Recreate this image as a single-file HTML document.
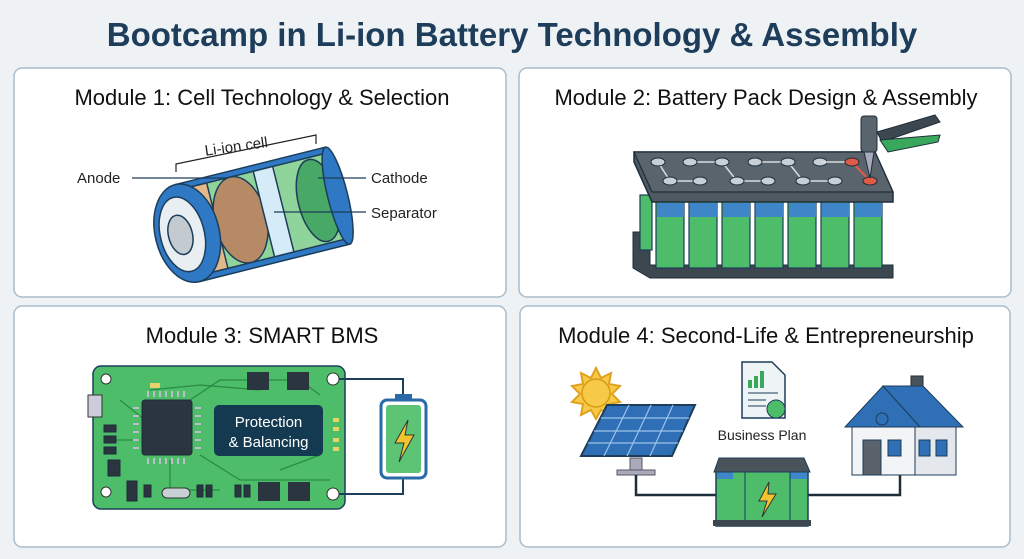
<!DOCTYPE html>
<html><head><meta charset="utf-8"><style>
html,body{margin:0;padding:0;background:#eef2f5;}
svg{display:block;font-family:"Liberation Sans",sans-serif;}
</style></head><body>
<svg width="1024" height="559" viewBox="0 0 1024 559" xmlns="http://www.w3.org/2000/svg">
<rect width="1024" height="559" fill="#eef2f5"/>
<text x="512" y="46" text-anchor="middle" font-size="33" font-weight="bold" fill="#1d3d5a">Bootcamp in Li-ion Battery Technology &amp; Assembly</text>
<g fill="#fff" stroke="#a9bccb" stroke-width="1.5">
<rect x="14" y="68" width="492" height="229" rx="8"/>
<rect x="519" y="68" width="492" height="229" rx="8"/>
<rect x="14" y="306" width="492" height="241" rx="8"/>
<rect x="520" y="306" width="490" height="241" rx="8"/>
</g>
<g font-size="22" fill="#111" text-anchor="middle">
<text x="262" y="105">Module 1: Cell Technology &amp; Selection</text>
<text x="766" y="105">Module 2: Battery Pack Design &amp; Assembly</text>
<text x="262" y="343">Module 3: SMART BMS</text>
<text x="766" y="343">Module 4: Second-Life &amp; Entrepreneurship</text>
</g>
<!-- Module 1 cell -->
<g transform="rotate(-14 260 215)" stroke="#1d3d5a" stroke-width="1.5">
<rect x="185" y="165" width="155" height="100" fill="#2f78c4"/>
<rect x="200" y="171" width="135" height="88" fill="#8fd49a"/>
<rect x="200" y="171" width="16" height="88" fill="#e3b98a"/>
<ellipse cx="240" cy="215" rx="26" ry="44" fill="#b58a64"/>
<rect x="264" y="171" width="20" height="88" fill="#d5ecf8"/>
<ellipse cx="320" cy="215" rx="20" ry="42" fill="#48a865"/>
<ellipse cx="340" cy="215" rx="10" ry="50" fill="#2f78c4"/>
<ellipse cx="185" cy="215" rx="32" ry="50" fill="#2f78c4"/>
<ellipse cx="180" cy="215" rx="22" ry="38" fill="#e9eef2"/>
<ellipse cx="178" cy="215" rx="12" ry="20" fill="#c4cbd0"/>
</g>
<path d="M176 172 L176 164 L316 135 L316 144" fill="none" stroke="#222" stroke-width="1.2"/>
<text x="205" y="152" font-size="15" fill="#222" transform="rotate(-8 232 150)">Li-ion cell</text>
<g font-size="15" fill="#222">
<text x="77" y="183">Anode</text>
<text x="371" y="183">Cathode</text>
<text x="371" y="218">Separator</text>
</g>
<g stroke="#1d3d5a" stroke-width="1.2">
<line x1="132" y1="178" x2="228" y2="178"/>
<line x1="318" y1="178" x2="366" y2="178"/>
<line x1="274" y1="212" x2="366" y2="212"/>
</g>
<!-- Module 2 pack -->
<polygon points="633,232 650,232 650,265 893,265 893,278 650,278 633,268" fill="#3d474f" stroke="#1d2d3a"/>
<g stroke="#1d3d5a" stroke-width="1.2">
<rect x="640" y="195" width="12" height="55" fill="#4dbd6a"/>
<rect x="656" y="200" width="28" height="68" fill="#4dbd6a"/>
<rect x="689" y="200" width="28" height="68" fill="#4dbd6a"/>
<rect x="722" y="200" width="28" height="68" fill="#4dbd6a"/>
<rect x="755" y="200" width="28" height="68" fill="#4dbd6a"/>
<rect x="788" y="200" width="28" height="68" fill="#4dbd6a"/>
<rect x="821" y="200" width="28" height="68" fill="#4dbd6a"/>
<rect x="854" y="200" width="28" height="68" fill="#4dbd6a"/>
</g>
<g fill="#3f86c8"><rect x="657" y="203" width="27" height="14"/><rect x="690" y="203" width="27" height="14"/><rect x="723" y="203" width="27" height="14"/><rect x="756" y="203" width="27" height="14"/><rect x="789" y="203" width="27" height="14"/><rect x="822" y="203" width="27" height="14"/><rect x="855" y="203" width="27" height="14"/></g>
<polygon points="634,152 875,152 893,192 893,202 652,202 634,162" fill="#4f5961" stroke="#1d2d3a" stroke-width="1.5"/>
<polygon points="634,152 875,152 893,192 652,192" fill="#5a646c" stroke="#1d2d3a" stroke-width="1.2"/>
<g stroke="#d8dde2" stroke-width="1.5" fill="none"><path d="M658 162 L670 181 L700 181"/><path d="M690 162 L722 162 L737 181 L768 181"/><path d="M755 162 L788 162 L803 181 L835 181"/></g>
<g fill="#c9d0d5" stroke="#1d2d3a"><ellipse cx="658" cy="162" rx="7" ry="4"/><ellipse cx="690" cy="162" rx="7" ry="4"/><ellipse cx="722" cy="162" rx="7" ry="4"/><ellipse cx="755" cy="162" rx="7" ry="4"/><ellipse cx="788" cy="162" rx="7" ry="4"/><ellipse cx="820" cy="162" rx="7" ry="4"/><ellipse cx="670" cy="181" rx="7" ry="4"/><ellipse cx="700" cy="181" rx="7" ry="4"/><ellipse cx="737" cy="181" rx="7" ry="4"/><ellipse cx="768" cy="181" rx="7" ry="4"/><ellipse cx="803" cy="181" rx="7" ry="4"/><ellipse cx="835" cy="181" rx="7" ry="4"/></g>
<line x1="820" y1="162" x2="852" y2="162" stroke="#d8dde2" stroke-width="1.5"/>
<line x1="852" y1="162" x2="870" y2="181" stroke="#e05a48" stroke-width="2"/>
<g fill="#e05a48" stroke="#1d2d3a"><ellipse cx="852" cy="162" rx="7" ry="4"/><ellipse cx="870" cy="181" rx="7" ry="4"/></g>
<rect x="861" y="116" width="16" height="36" rx="3" fill="#5a646c" stroke="#1d2d3a"/>
<polygon points="864,152 874,152 870,178" fill="#aab" stroke="#1d2d3a"/>
<path d="M877 132 L935 115 L940 122 L882 142 Z" fill="#3d474f" stroke="#1d2d3a"/>
<path d="M880 140 L940 135 L938 142 L888 152 Z" fill="#3aa85c" stroke="#1d2d3a"/>
<!-- Module 3 BMS -->
<rect x="93" y="366" width="252" height="143" rx="8" fill="#4dbd6a" stroke="#1d3d5a" stroke-width="1.5"/>
<g stroke="#2b8a45" stroke-width="1.3" fill="none"><path d="M150 390 L200 385 L260 390"/><path d="M120 400 L145 420"/><path d="M170 460 L170 490 L220 490"/><path d="M200 455 L240 480 L330 480"/><path d="M190 400 L220 380 L300 380 L320 395"/><path d="M320 455 L280 470"/><path d="M110 440 L140 440"/></g>
<rect x="142" y="400" width="50" height="55" rx="3" fill="#2b3540" stroke="#1d2d3a"/>
<g stroke="#b8c0c8" stroke-width="2"><path d="M148 397 v-6 M154 397 v-6 M160 397 v-6 M166 397 v-6 M172 397 v-6 M178 397 v-6 M184 397 v-6 M148 458 v6 M154 458 v6 M160 458 v6 M166 458 v6 M172 458 v6 M178 458 v6 M184 458 v6 M139 408 h-6 M139 416 h-6 M139 424 h-6 M139 432 h-6 M139 440 h-6 M139 448 h-6 M195 408 h6 M195 416 h6 M195 424 h6 M195 432 h6 M195 440 h6 M195 448 h6"/></g>
<rect x="88" y="395" width="14" height="22" fill="#ccd" stroke="#333"/>
<g fill="#2b3540" stroke="#1d2d3a"><rect x="104" y="425" width="12" height="7"/><rect x="104" y="436" width="12" height="7"/><rect x="104" y="447" width="12" height="7"/><rect x="108" y="460" width="12" height="16"/><rect x="127" y="481" width="10" height="20"/><rect x="144" y="485" width="7" height="12"/><rect x="197" y="485" width="6" height="12"/><rect x="206" y="485" width="6" height="12"/><rect x="235" y="485" width="6" height="12"/><rect x="244" y="485" width="6" height="12"/></g>
<rect x="162" y="488" width="28" height="10" rx="5" fill="#c9d0d5" stroke="#333"/>
<rect x="214" y="405" width="109" height="51" rx="5" fill="#143a52"/>
<text x="268.5" y="427" text-anchor="middle" font-size="15" fill="#fff">Protection</text>
<text x="268.5" y="447" text-anchor="middle" font-size="15" fill="#fff">&amp; Balancing</text>
<g fill="#e8d36a"><rect x="333" y="418" width="6" height="4"/><rect x="333" y="427" width="6" height="4"/><rect x="333" y="438" width="6" height="4"/><rect x="333" y="447" width="6" height="4"/><rect x="150" y="383" width="10" height="5"/></g>
<g fill="#2b3540"><rect x="247" y="372" width="22" height="18"/><rect x="287" y="372" width="22" height="18"/><rect x="258" y="482" width="22" height="19"/><rect x="288" y="482" width="22" height="19"/></g>
<g fill="#fff" stroke="#333"><circle cx="333" cy="379" r="6"/><circle cx="333" cy="494" r="6"/><circle cx="106" cy="379" r="5"/><circle cx="106" cy="492" r="5"/></g>
<path d="M339 379 L403 379 L403 398 M339 494 L403 494 L403 478" fill="none" stroke="#1d3d5a" stroke-width="2"/>
<rect x="381" y="400" width="45" height="78" rx="6" fill="#fff" stroke="#2a6aa8" stroke-width="3"/>
<rect x="395" y="394" width="17" height="7" fill="#2a6aa8"/>
<rect x="386" y="405" width="35" height="68" rx="3" fill="#5cc474"/>
<path d="M408 420 L395 443 L404 443 L399 462 L414 435 L405 435 Z" fill="#f4c430" stroke="#333"/>
<!-- Module 4 -->
<g stroke="#e0a21a" stroke-width="2" fill="#f7c948"><polygon points="596,368 601,378 611,373 609,384 620,386 612,394 620,402 609,404 611,415 601,410 596,419 591,410 581,415 583,404 572,402 580,394 572,386 583,384 581,373 591,378"/></g>
<circle cx="596" cy="393" r="14" fill="#f7c948" stroke="#d79a10" stroke-width="1.5"/>
<polygon points="607,405 695,405 672,456 581,456" fill="#2f6fb5" stroke="#1d3d5a" stroke-width="2"/>
<g stroke="#9cc4ea" stroke-width="1.2"><line x1="601" y1="418" x2="689" y2="418"/><line x1="594" y1="431" x2="683" y2="431"/><line x1="588" y1="443" x2="678" y2="443"/><line x1="629" y1="405" x2="604" y2="456"/><line x1="651" y1="405" x2="627" y2="456"/><line x1="673" y1="405" x2="650" y2="456"/></g>
<rect x="630" y="458" width="12" height="12" fill="#aab" stroke="#556"/><rect x="617" y="470" width="38" height="5" fill="#aab" stroke="#556"/>
<path d="M636 475 L636 495 L716 495 M808 495 L900 495 L900 475" fill="none" stroke="#1d2d3a" stroke-width="2.5"/>
<path d="M742 362 L772 362 L785 375 L785 418 L742 418 Z" fill="#eef3f6" stroke="#1d3d5a" stroke-width="1.5"/>
<g fill="#3aa85c"><rect x="748" y="380" width="4" height="8"/><rect x="754" y="376" width="4" height="12"/><rect x="760" y="371" width="4" height="17"/></g>
<g stroke="#1d3d5a"><line x1="748" y1="393" x2="778" y2="393"/><line x1="748" y1="400" x2="766" y2="400"/><line x1="748" y1="406" x2="766" y2="406"/></g>
<circle cx="776" cy="409" r="9" fill="#4dbd6a" stroke="#1d3d5a"/>
<text x="762" y="440" text-anchor="middle" font-size="14" fill="#222">Business Plan</text>
<rect x="911" y="376" width="12" height="22" fill="#4a525a" stroke="#1d2d3a"/>
<polygon points="845,427 883,386 920,427" fill="#2f6fb5" stroke="#1d3d5a"/>
<polygon points="883,386 923,386 963,427 920,427" fill="#2f6fb5" stroke="#1d3d5a"/>
<rect x="852" y="427" width="63" height="48" fill="#f2f4f6" stroke="#1d3d5a"/>
<rect x="915" y="427" width="41" height="48" fill="#e4e8ec" stroke="#1d3d5a"/>
<rect x="863" y="440" width="18" height="35" fill="#5a626b" stroke="#1d3d5a"/>
<g fill="#2f6fb5" stroke="#1d3d5a"><rect x="888" y="440" width="13" height="16"/><rect x="919" y="440" width="11" height="16"/><rect x="936" y="440" width="11" height="16"/><circle cx="882" cy="419" r="6"/></g>
<rect x="716" y="470" width="92" height="56" fill="#4dbd6a" stroke="#1d3d5a" stroke-width="1.5"/>
<g fill="#3f86c8"><rect x="717" y="471" width="16" height="8"/><rect x="790" y="471" width="17" height="8"/></g>
<line x1="745" y1="470" x2="745" y2="526" stroke="#1d3d5a"/><line x1="790" y1="470" x2="790" y2="526" stroke="#1d3d5a"/>
<polygon points="719,458 804,458 810,472 714,472" fill="#4a525a" stroke="#1d3d5a"/>
<rect x="713" y="520" width="98" height="6" fill="#3d474f"/>
<path d="M769 482 L759 501 L767 501 L762 517 L776 494 L768 494 Z" fill="#f4c430" stroke="#333"/>
</svg>
</body></html>
